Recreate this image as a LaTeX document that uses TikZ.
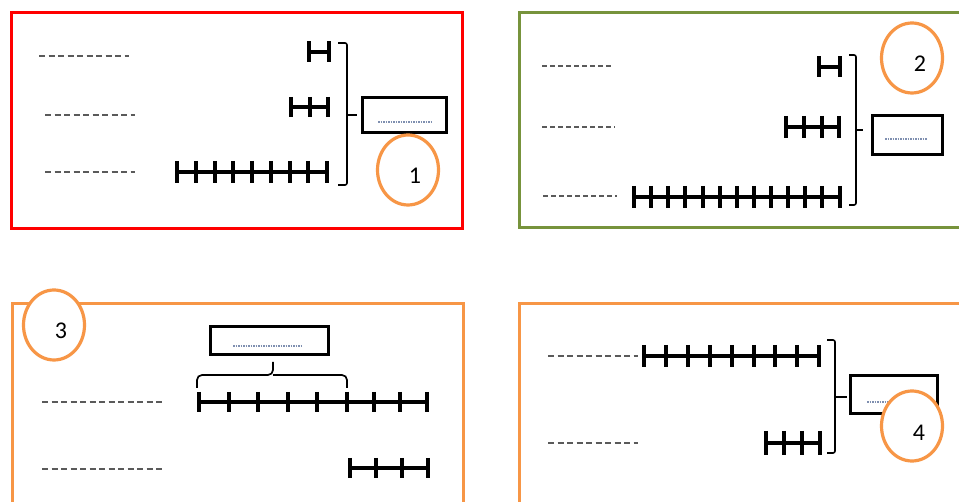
\documentclass[tikz,border=0pt]{standalone}
\usepackage{fontspec}
\setmainfont{Carlito}
\usetikzlibrary{shapes.geometric}
\definecolor{fred}{HTML}{FF0000}
\definecolor{fgreen}{HTML}{77933C}
\definecolor{forange}{HTML}{F79646}
\definecolor{dgray}{HTML}{5A5A5A}
\definecolor{dotc}{HTML}{7F8FB0}
\newcommand\unitseg[5]{%
  \draw[seg] (#1,#2) -- ++(#3*#4,0);
  \foreach \i in {0,...,#3} \draw[seg] (#1+\i*#4,#2-#5) -- (#1+\i*#4,#2+#5);
}
\begin{document}
\begin{tikzpicture}[x=1pt,y=-1pt,
  frame/.style={line width=3pt},
  seg/.style={line width=4pt},
  blank/.style={dgray,line width=1.8pt,dash pattern=on 6pt off 3.5pt},
  brk/.style={line width=1.6pt,rounded corners=2pt},
  ansbox/.style={draw,line width=3.6pt,rectangle,inner sep=0pt},
  dots/.style={dotc,line width=1.4pt,dash pattern=on 1.5pt off 1pt},
  num/.style={draw=forange,line width=3.2pt,fill=white,ellipse,inner sep=0pt,minimum width=61pt,minimum height=70pt},
  numtext/.style={inner sep=0pt,font=\fontsize{24}{26}\selectfont}]
\useasboundingbox (0,0) rectangle (959,502);
\clip (0,0) rectangle (959,502);
\fill[white] (0,0) rectangle (959,502);

% ---------------- Panel 1 ----------------
\draw[frame,fred] (11,13) rectangle (462,229);
\draw[blank] (39,56) -- (129,56);
\draw[blank] (45,115) -- (135,115);
\draw[blank] (45,172) -- (135,172);
\unitseg{309}{52}{1}{20}{10.5}
\unitseg{291}{107}{2}{18.5}{10}
\unitseg{177}{172}{8}{18.75}{11}
\draw[brk] (338,43) -- (347,43) -- (347,185) -- (338,185);
\draw[brk] (347,115) -- (357,115);
\node[ansbox,minimum width=84pt,minimum height=35pt] (b1) at (404.5,115) {};
\draw[dots] (378,122) -- (432,122);
\node[num] (c1) at (408,170) {};
\node[numtext] (t1) at (415,176) {1};

% ---------------- Panel 2 ----------------
\draw[frame,fgreen] (519,13) rectangle (970,228);
\draw[blank,dash pattern=on 5pt off 3pt] (542,66) -- (613,66);
\draw[blank,dash pattern=on 5pt off 3pt] (542,127) -- (615,127);
\draw[blank,dash pattern=on 5pt off 3pt] (543,196) -- (617,196);
\unitseg{819}{67}{1}{20.5}{10.5}
\unitseg{786}{127}{3}{17.83}{11}
\unitseg{634}{197}{12}{17.13}{11}
\draw[brk] (849,55) -- (856,55) -- (856,205) -- (849,205);
\draw[brk] (856,130) -- (863,130);
\node[ansbox,minimum width=70pt,minimum height=39pt] (b2) at (907.5,135) {};
\draw[dots] (885,139) -- (927,139);
\node[num] (c2) at (912,58) {};
\node[numtext] (t2) at (920,64) {2};

% ---------------- Panel 3 ----------------
\draw[frame,forange] (12,304) rectangle (463,520);
\node[num] (c3) at (54,325) {};
\node[numtext] (t3) at (61,331) {3};
\node[ansbox,minimum width=118pt,minimum height=28pt] (b3) at (269.5,340.5) {};
\draw[dots] (233,346) -- (303,346);
\draw[line width=1.7pt,rounded corners=5pt] (197,388) |- (273,375) -- (273,362);
\draw[line width=1.7pt,rounded corners=5pt] (273,375) -| (347,388);
\draw[blank] (42,402) -- (162,402);
\draw[blank] (42,469) -- (162,469);
\unitseg{199}{402}{5}{29.6}{10}
\unitseg{347}{402}{3}{26.7}{10}
\unitseg{350}{468}{3}{26}{10}

% ---------------- Panel 4 ----------------
\draw[frame,forange] (519,304) rectangle (970,520);
\draw[blank] (548,356) -- (638,356);
\draw[blank] (548,443) -- (638,443);
\unitseg{644}{356}{8}{21.9}{11}
\unitseg{766}{443}{3}{18}{12}
\draw[brk] (827,340) -- (835,340) -- (835,453) -- (827,453);
\draw[brk] (835,397) -- (847,397);
\node[ansbox,minimum width=87pt,minimum height=38pt] (b4) at (894,394.5) {};
\draw[dots] (867,402) -- (910,402);
\node[num] (c4) at (912,426) {};
\node[numtext] (t4) at (919,433) {4};
\end{tikzpicture}
\end{document}
